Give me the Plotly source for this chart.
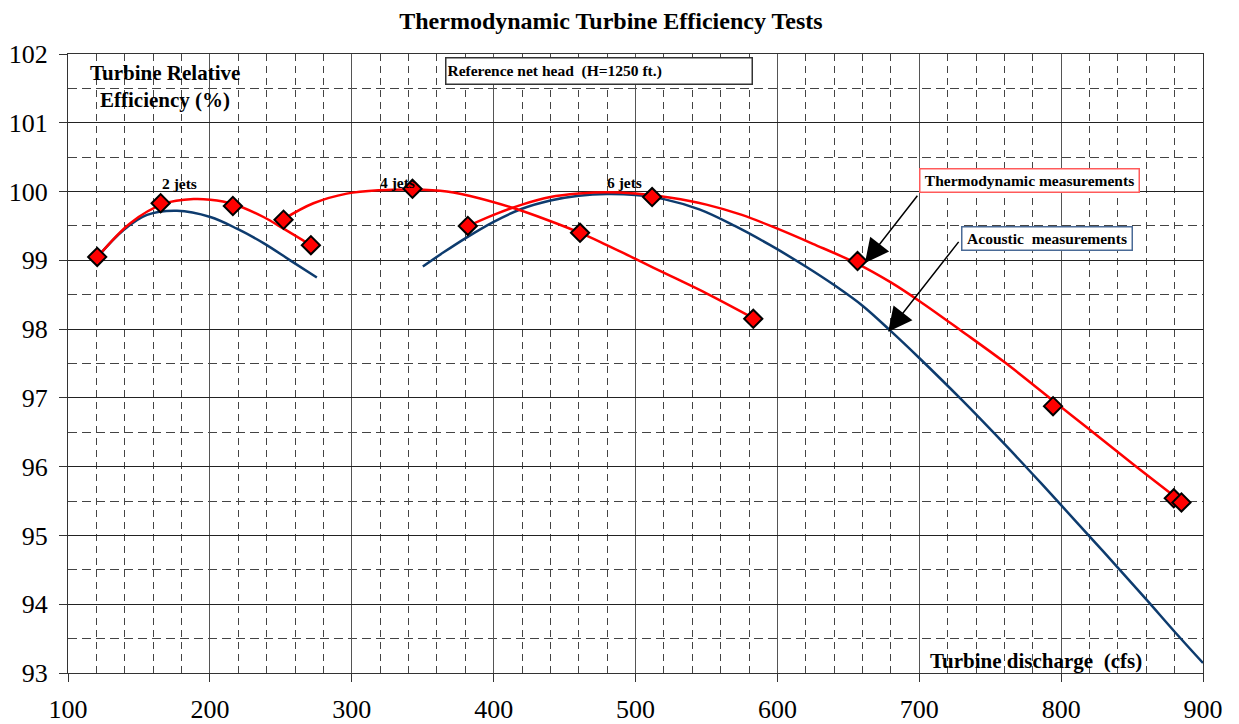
import plotly.graph_objects as go

# measured points (turbine discharge cfs, relative efficiency %)
meas_q = [120.6, 165.3, 216.2, 251.9, 271.2, 342.8, 381.8, 460.9, 511.7, 583.0, 656.5, 794.3, 879.4, 884.8]
meas_eff = [99.05, 99.83, 99.79, 99.59, 99.22, 100.04, 99.50, 99.40, 99.92, 98.15, 98.99, 96.88, 95.54, 95.48]

# thermodynamic trend curves
thermo2_q = [121.3, 143.9, 167.3, 188.5, 200.3, 216.2, 237.8, 251.9, 271.2]
thermo2_eff = [99.06, 99.54, 99.82, 99.89, 99.88, 99.82, 99.63, 99.46, 99.22]

thermo4_q = [251.9, 273.0, 296.5, 320.0, 343.5, 367.0, 390.5, 413.9, 437.4, 460.9, 475.0,
             500.0, 525.0, 550.0, 583.0]
thermo4_eff = [99.60, 99.83, 99.97, 100.02, 100.03, 100.00, 99.90, 99.76, 99.59, 99.40, 99.27,
               99.02, 98.77, 98.52, 98.16]

thermo6_q = [382.2, 400, 420, 440, 460, 480, 500, 525, 550, 575, 600, 625, 656.5, 680, 700,
             730, 760, 794.3, 820, 853, 884.8]
thermo6_eff = [99.50, 99.66, 99.81, 99.92, 99.97, 99.99, 99.97, 99.91, 99.81, 99.66, 99.46,
               99.24, 98.95, 98.68, 98.41, 97.97, 97.52, 96.96, 96.54, 96.00, 95.49]

# acoustic trend curves
acoustic2_q = [121.3, 139.2, 155.7, 176.8, 200.3, 219.1, 237.8, 256.6, 275.4]
acoustic2_eff = [99.06, 99.44, 99.66, 99.72, 99.63, 99.46, 99.25, 99.00, 98.75]

acoustic6_q = [350.1, 365, 380, 400, 420, 440, 460, 480, 500, 520, 545, 570, 595, 620, 640,
               660, 680, 700, 730, 760, 780, 800, 830, 860, 880, 900]
acoustic6_eff = [98.91, 99.12, 99.32, 99.56, 99.75, 99.87, 99.94, 99.965, 99.95, 99.89, 99.74,
                 99.50, 99.22, 98.91, 98.64, 98.34, 97.97, 97.58, 96.97, 96.33, 95.89, 95.44,
                 94.76, 94.07, 93.60, 93.145]

RED = "#FF0000"
NAVY = "#0D3B6E"
FONT = "Liberation Serif, Times New Roman, serif"

fig = go.Figure()

for q, e in [(acoustic2_q, acoustic2_eff), (acoustic6_q, acoustic6_eff)]:
    fig.add_trace(go.Scatter(x=q, y=e, mode="lines", line=dict(color=NAVY, width=2.5, shape="spline"),
                             showlegend=False))
for q, e in [(thermo2_q, thermo2_eff), (thermo4_q, thermo4_eff), (thermo6_q, thermo6_eff)]:
    fig.add_trace(go.Scatter(x=q, y=e, mode="lines", line=dict(color=RED, width=2.5, shape="spline"),
                             showlegend=False))

fig.add_trace(go.Scatter(
    x=meas_q, y=meas_eff, mode="markers",
    marker=dict(symbol="diamond", size=14, color=RED, line=dict(color="black", width=2)),
    showlegend=False,
))

axis_common = dict(
    showline=True, linecolor="#333", linewidth=1, mirror=True,
    showgrid=True, gridwidth=1,
    ticks="outside", ticklen=8, tickcolor="#333",
    tickfont=dict(family=FONT, size=26, color="black"),
    automargin=False,
)

fig.update_xaxes(
    range=[100, 900], dtick=100, tick0=100, gridcolor="#555",
    minor=dict(dtick=20, showgrid=True, gridcolor="#444", griddash="7px,5px", gridwidth=1),
    ticklabelstandoff=5,
    **axis_common,
)
fig.update_yaxes(
    range=[93, 102], dtick=1, tick0=93, gridcolor="#222",
    minor=dict(dtick=0.5, showgrid=True, gridcolor="#444", griddash="9px,5px", gridwidth=1),
    ticklabelstandoff=6,
    **axis_common,
)

bold = dict(family=FONT, color="black")

annotations = [
    dict(x=168.7, y=101.72, text="<b>Turbine Relative</b>", font=dict(size=21, **bold)),
    dict(x=168.7, y=101.33, text="<b>Efficiency (%)</b>", font=dict(size=21, **bold)),
    dict(x=178.5, y=100.12, text="<b>2 jets</b>", font=dict(size=15.5, **bold)),
    dict(x=332.0, y=100.13, text="<b>4 jets</b>", font=dict(size=15.5, **bold)),
    dict(x=492.0, y=100.13, text="<b>6 jets</b>", font=dict(size=15.5, **bold)),
    dict(x=474.4, y=101.75, text="<b>Reference net head\u00a0 (H=1250 ft.)</b>",
         font=dict(size=15.5, **bold), align="left", width=303, height=23,
         bordercolor="#333", borderwidth=1.5, borderpad=1, bgcolor="white"),
    dict(x=777.4, y=100.16, text="<b>Thermodynamic measurements</b>",
         font=dict(size=15.5, **bold), width=216, height=20,
         bordercolor="#FF5A5A", borderwidth=1.5, borderpad=1, bgcolor="white"),
    dict(x=789.7, y=99.32, text="<b>Acoustic\u00a0 measurements</b>",
         font=dict(size=15.5, **bold), width=167, height=20,
         bordercolor="#4A6A96", borderwidth=1.5, borderpad=1, bgcolor="white"),
    dict(x=782.0, y=93.17, text="<b>Turbine discharge\u00a0 (cfs)</b>", font=dict(size=21, **bold)),
]
for a in annotations:
    a.update(xref="x", yref="y", showarrow=False)
    fig.add_annotation(**a)

# arrows from the boxes to the curves
arrows = [
    (661.7, 98.96, 699.5, 99.96),
    (678.1, 97.96, 728.6, 99.29),
]
for hx, hy, tx, ty in arrows:
    fig.add_annotation(x=hx, y=hy, ax=tx, ay=ty, xref="x", yref="y", axref="x", ayref="y",
                       text="", showarrow=True, arrowhead=2, arrowsize=3.2, arrowwidth=1.5,
                       arrowcolor="black")

# page body keeps an 8px margin; figure reaches down to the bottom of the window
fig.update_layout(
    width=1223, height=716,
    margin=dict(l=60, r=28, t=46, b=51),
    font=dict(family=FONT, color="black"),
    paper_bgcolor="white", plot_bgcolor="white",
    title=dict(text="<b>Thermodynamic Turbine Efficiency Tests</b>", x=0.493, xanchor="center",
               y=0.983, yanchor="middle", font=dict(family=FONT, size=24, color="black")),
    showlegend=False,
)

fig.write_html("out.html")
